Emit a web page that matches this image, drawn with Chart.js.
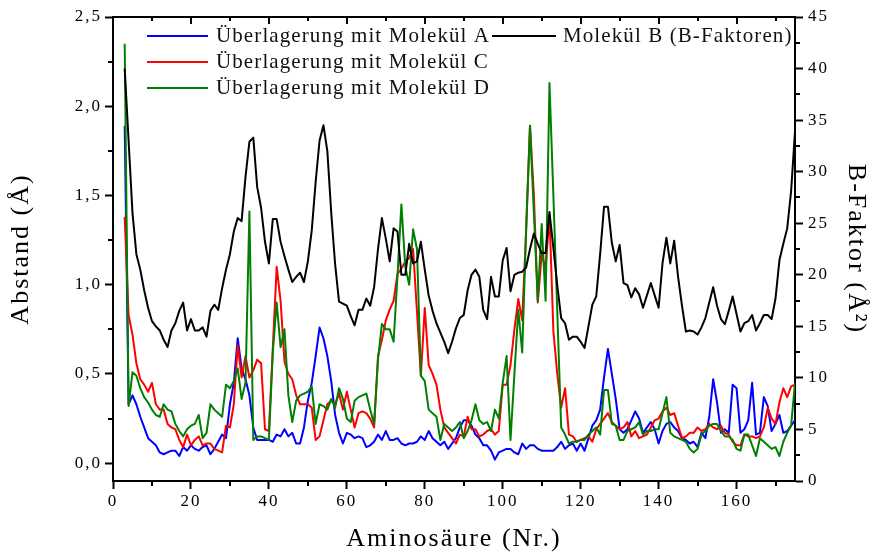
<!DOCTYPE html>
<html>
<head>
<meta charset="utf-8">
<script src="https://cdn.jsdelivr.net/npm/chart.js@4"></script>
<style>
  html, body { margin: 0; padding: 0; background: #fff; }
  #wrap { width: 878px; height: 555px; }
</style>
</head>
<body>
<div id="wrap"><canvas id="myChart" width="878" height="555"></canvas></div>
<script>
// residue numbers start at 3, one value per residue up to 175
const firstResidue = 3;

const abstandA = [
  1.89, 0.33, 0.38, 0.33, 0.26, 0.20, 0.14, 0.12, 0.10, 0.06,
  0.05, 0.06, 0.07, 0.07, 0.04, 0.09, 0.07, 0.10, 0.08, 0.07,
  0.09, 0.10, 0.05, 0.08, 0.12, 0.16, 0.14, 0.33, 0.45, 0.70,
  0.53, 0.47, 0.38, 0.20, 0.13, 0.13, 0.13, 0.13, 0.12, 0.16,
  0.15, 0.19, 0.15, 0.17, 0.11, 0.11, 0.20, 0.35, 0.45, 0.60,
  0.76, 0.70, 0.60, 0.46, 0.27, 0.17, 0.11, 0.17, 0.16, 0.14,
  0.15, 0.14, 0.09, 0.10, 0.12, 0.16, 0.13, 0.18, 0.13, 0.13,
  0.14, 0.11, 0.10, 0.11, 0.11, 0.12, 0.15, 0.13, 0.18, 0.14,
  0.12, 0.10, 0.12, 0.08, 0.11, 0.14, 0.20, 0.24, 0.24, 0.21,
  0.16, 0.14, 0.10, 0.10, 0.07, 0.02, 0.06, 0.07, 0.08, 0.08,
  0.06, 0.05, 0.11, 0.08, 0.10, 0.10, 0.08, 0.07, 0.07, 0.07,
  0.07, 0.09, 0.12, 0.08, 0.10, 0.11, 0.07, 0.11, 0.07, 0.14,
  0.21, 0.24, 0.30, 0.48, 0.64, 0.50, 0.36, 0.19, 0.17, 0.19,
  0.24, 0.29, 0.25, 0.17, 0.20, 0.23, 0.19, 0.11, 0.18, 0.22,
  0.23, 0.20, 0.18, 0.14, 0.13, 0.11, 0.12, 0.09, 0.17, 0.14,
  0.26, 0.47, 0.34, 0.17, 0.19, 0.17, 0.44, 0.42, 0.17, 0.19,
  0.24, 0.45, 0.16, 0.17, 0.37, 0.32, 0.18, 0.22, 0.27, 0.17,
  0.18, 0.21, 0.24
];

const abstandC = [
  1.38, 0.83, 0.72, 0.56, 0.47, 0.44, 0.40, 0.45, 0.33, 0.30,
  0.30, 0.22, 0.20, 0.19, 0.13, 0.09, 0.16, 0.10, 0.13, 0.15,
  0.10, 0.11, 0.11, 0.08, 0.07, 0.06, 0.21, 0.20, 0.33, 0.66,
  0.48, 0.60, 0.48, 0.52, 0.58, 0.56, 0.19, 0.18, 0.64, 1.10,
  0.91, 0.57, 0.50, 0.47, 0.38, 0.33, 0.33, 0.33, 0.31, 0.13,
  0.15, 0.24, 0.33, 0.35, 0.33, 0.39, 0.30, 0.40, 0.30, 0.20,
  0.28, 0.29, 0.28, 0.25, 0.20, 0.60, 0.69, 0.80, 0.86, 0.91,
  1.06, 1.09, 1.13, 1.15, 1.20, 0.85, 0.49, 0.87, 0.55, 0.50,
  0.44, 0.30, 0.20, 0.17, 0.14, 0.11, 0.16, 0.15, 0.26, 0.19,
  0.19, 0.15, 0.16, 0.18, 0.19, 0.16, 0.18, 0.44, 0.44, 0.55,
  0.75, 0.92, 0.80, 1.30, 1.89, 1.50, 0.90, 1.17, 1.09, 1.39,
  0.74, 0.50, 0.31, 0.42, 0.16, 0.15, 0.12, 0.13, 0.14, 0.15,
  0.12, 0.19, 0.22, 0.25, 0.28, 0.23, 0.21, 0.19, 0.20, 0.23,
  0.15, 0.18, 0.14, 0.15, 0.16, 0.20, 0.24, 0.25, 0.29, 0.31,
  0.27, 0.28, 0.21, 0.14, 0.15, 0.17, 0.17, 0.20, 0.18, 0.19,
  0.22, 0.20, 0.19, 0.21, 0.17, 0.16, 0.12, 0.10, 0.10, 0.16,
  0.15, 0.15, 0.14, 0.15, 0.20, 0.31, 0.25, 0.22, 0.34, 0.42,
  0.37, 0.43, 0.44
];

const abstandD = [
  2.35, 0.32, 0.51, 0.49, 0.42, 0.37, 0.34, 0.30, 0.27, 0.26,
  0.33, 0.30, 0.29, 0.22, 0.18, 0.15, 0.19, 0.21, 0.22, 0.27,
  0.14, 0.17, 0.33, 0.30, 0.28, 0.26, 0.44, 0.42, 0.46, 0.53,
  0.36, 0.45, 1.41, 0.13, 0.15, 0.15, 0.14, 0.13, 0.62, 0.90,
  0.65, 0.75, 0.38, 0.23, 0.35, 0.38, 0.39, 0.40, 0.43, 0.22,
  0.33, 0.32, 0.30, 0.36, 0.31, 0.42, 0.36, 0.25, 0.23, 0.35,
  0.37, 0.38, 0.39, 0.30, 0.22, 0.58, 0.78, 0.75, 0.75, 0.68,
  1.05, 1.45, 1.10, 1.00, 1.31, 1.20, 0.49, 0.46, 0.30, 0.28,
  0.26, 0.13, 0.22, 0.20, 0.18, 0.20, 0.23, 0.14, 0.18, 0.24,
  0.33, 0.24, 0.22, 0.23, 0.18, 0.30, 0.25, 0.45, 0.60, 0.13,
  0.50, 0.86, 0.62, 1.30, 1.89, 1.40, 0.91, 1.34, 0.91, 2.13,
  1.50, 0.85, 0.20, 0.16, 0.11, 0.12, 0.12, 0.13, 0.13, 0.16,
  0.18, 0.20, 0.16, 0.41, 0.41, 0.22, 0.21, 0.13, 0.13, 0.18,
  0.19, 0.20, 0.23, 0.16, 0.18, 0.18, 0.19, 0.19, 0.28, 0.37,
  0.17, 0.15, 0.14, 0.13, 0.12, 0.08, 0.06, 0.08, 0.16, 0.18,
  0.21, 0.22, 0.22, 0.18, 0.15, 0.15, 0.13, 0.08, 0.07, 0.16,
  0.16, 0.10, 0.04, 0.14, 0.12, 0.10, 0.08, 0.09, 0.04, 0.12,
  0.17, 0.21, 0.45
];

const bFaktorB = [
  40, 33, 26, 22, 20.5, 18.5, 16.8, 15.5, 15, 14.6,
  13.7, 13, 14.6, 15.3, 16.5, 17.3, 14.6, 15.7, 14.6, 14.6,
  14.9, 14, 16.5, 17.1, 16.6, 18.7, 20.5, 22, 24.2, 25.5,
  25.2, 29.5, 32.9, 33.3, 28.5, 26.5, 23.2, 21.1, 25.4, 25.4,
  23.2, 21.8, 20.5, 19.3, 19.8, 20.2, 19.3, 21.3, 24.3, 29,
  33, 34.5, 32, 26, 21, 17.4, 17.2, 17, 16, 15.1,
  16.6, 16.6, 17.7, 17, 18.8, 22.5, 25.5, 23.5, 21.3, 24.5,
  24.2, 20, 20, 23, 21.1, 21.3, 23.2, 20.5, 18, 16.5,
  15.3, 14.4, 13.5, 12.4, 13.5, 14.8, 15.8, 16.1, 18.5, 20,
  20.5, 19.8, 16.6, 15.7, 19.8, 17.9, 17.9, 21.4, 22.6, 18.4,
  20, 20.2, 20.3, 20.7, 22.5, 24, 23, 22.1, 22.1, 26.1,
  22.6, 19, 15.8, 15.3, 13.7, 14, 14, 13.5, 12.9, 15,
  17.1, 17.9, 22, 26.6, 26.6, 23.1, 21.3, 22.9, 19.2, 19,
  17.8, 18.7, 18.1, 16.8, 18, 19.2, 18, 16.8, 21.1, 23.6,
  21.1, 23.3, 19.8, 17, 14.5, 14.6, 14.5, 14.2, 14.9, 15.8,
  17.3, 18.8, 17, 15.7, 15.2, 16.5, 17.9, 16.2, 14.5, 15.3,
  15.5, 16.1, 14.6, 15.3, 16.1, 16.1, 15.7, 17.7, 21.4, 23,
  24.5, 28.1, 33.9
];

const xTicks = [0, 20, 40, 60, 80, 100, 120, 140, 160];
const xMinorTicks = [10, 30, 50, 70, 90, 110, 130, 150, 170];
const leftTicks = [0, 0.5, 1.0, 1.5, 2.0, 2.5];
const leftMinorTicks = [0.25, 0.75, 1.25, 1.75, 2.25];
const rightTicks = [0, 5, 10, 15, 20, 25, 30, 35, 40, 45];
const rightMinorTicks = [2.5, 7.5, 12.5, 17.5, 22.5, 27.5, 32.5, 37.5, 42.5];

const serif = "'Liberation Serif', 'Times New Roman', serif";

function toPoints(values) {
  return values.map((v, i) => ({ x: firstResidue + i, y: v }));
}

// legend rows: [label, colour, lineStart, lineEnd, textX, y]
const legendRows = [
  ["Überlagerung mit Molekül A", "#0000ff", 147, 208, 216, 36],
  ["Überlagerung mit Molekül C", "#ff0000", 147, 208, 216, 62],
  ["Überlagerung mit Molekül D", "#008000", 147, 208, 216, 88],
  ["Molekül B (B-Faktoren)", "#000000", 492, 556, 563, 36],
];

const framePlugin = {
  id: "frame",
  beforeDraw(chart) {
    chart.ctx.letterSpacing = "2px";
  },
  afterDraw(chart) {
    const ctx = chart.ctx;
    const a = chart.chartArea;
    const sx = chart.scales.x, sy = chart.scales.y, sy2 = chart.scales.y2;
    ctx.save();
    ctx.strokeStyle = "#000";
    ctx.lineWidth = 2;
    ctx.beginPath();
    ctx.moveTo(a.left - 1, a.top);
    ctx.lineTo(a.right + 1, a.top);
    ctx.stroke();
    ctx.beginPath();
    xMinorTicks.forEach(v => {
      const px = Math.round(sx.getPixelForValue(v));
      ctx.moveTo(px, a.bottom);
      ctx.lineTo(px, a.bottom + 5);
    });
    xTicks.concat(xMinorTicks).forEach(v => {
      const px = Math.round(sx.getPixelForValue(v));
      ctx.moveTo(px, a.top);
      ctx.lineTo(px, a.top + (v % 20 === 0 ? 7 : 4));
    });
    leftMinorTicks.forEach(v => {
      const py = Math.round(sy.getPixelForValue(v));
      ctx.moveTo(a.left, py);
      ctx.lineTo(a.left - 5, py);
    });
    rightMinorTicks.forEach(v => {
      const py = Math.round(sy2.getPixelForValue(v));
      ctx.moveTo(a.right, py);
      ctx.lineTo(a.right + 5, py);
    });
    ctx.stroke();

    // legend
    ctx.letterSpacing = "1.1px";
    ctx.font = "21px " + serif;
    ctx.textBaseline = "middle";
    ctx.textAlign = "left";
    legendRows.forEach(([label, colour, x0, x1, tx, y]) => {
      ctx.strokeStyle = colour;
      ctx.lineWidth = 2;
      ctx.beginPath();
      ctx.moveTo(x0, y);
      ctx.lineTo(x1, y);
      ctx.stroke();
      ctx.fillStyle = "#111";
      ctx.fillText(label, tx, y);
    });
    ctx.restore();
  }
};

const tickFont = { family: serif, size: 17 };
const titleFont = { family: serif, size: 26 };

const myChart = new Chart(document.getElementById("myChart"), {
  type: "line",
  data: {
    datasets: [
      {
        label: "Überlagerung mit Molekül A",
        data: toPoints(abstandA),
        borderColor: "#0000ff",
        borderWidth: 2,
        yAxisID: "y",
        order: 3,
      },
      {
        label: "Molekül B (B-Faktoren)",
        data: toPoints(bFaktorB),
        borderColor: "#000000",
        borderWidth: 2,
        yAxisID: "y2",
        order: 0,
      },
      {
        label: "Überlagerung mit Molekül C",
        data: toPoints(abstandC),
        borderColor: "#ff0000",
        borderWidth: 2,
        yAxisID: "y",
        order: 2,
      },
      {
        label: "Überlagerung mit Molekül D",
        data: toPoints(abstandD),
        borderColor: "#008000",
        borderWidth: 2,
        yAxisID: "y",
        order: 1,
      },
    ],
  },
  options: {
    responsive: false,
    animation: false,
    devicePixelRatio: 1,
    elements: {
      point: { radius: 0 },
      line: { tension: 0, borderJoinStyle: "round" },
    },
    layout: { padding: { top: 17, left: 0, right: 0, bottom: 0 } },
    plugins: {
      legend: { display: false },
      tooltip: { enabled: false },
    },
    scales: {
      x: {
        type: "linear",
        min: 0,
        max: 175,
        afterBuildTicks: s => { s.ticks = xTicks.map(v => ({ value: v })); },
        afterFit: s => { s.height = 74; },
        grid: { drawOnChartArea: false, tickLength: 8, tickWidth: 2, tickColor: "#000" },
        border: { color: "#000", width: 2 },
        ticks: { color: "#000", font: tickFont, padding: 2, maxRotation: 0, autoSkip: false },
        title: { display: true, text: "Aminosäure (Nr.)", color: "#000", font: titleFont, padding: 0 },
      },
      y: {
        position: "left",
        min: -0.1,
        max: 2.5,
        afterBuildTicks: s => { s.ticks = leftTicks.map(v => ({ value: v })); },
        afterFit: s => { s.width = 113; },
        grid: { drawOnChartArea: false, tickLength: 8, tickWidth: 2, tickColor: "#000" },
        border: { color: "#000", width: 2 },
        ticks: {
          color: "#000",
          font: tickFont,
          padding: 3,
          callback: v => v.toFixed(1).replace(".", ","),
        },
        title: { display: true, text: "Abstand (Å)", color: "#000", font: titleFont, padding: { top: 6, bottom: 0 } },
      },
      y2: {
        position: "right",
        min: 0,
        max: 45,
        afterBuildTicks: s => { s.ticks = rightTicks.map(v => ({ value: v })); },
        afterFit: s => { s.width = 83; },
        grid: { drawOnChartArea: false, tickLength: 8, tickWidth: 2, tickColor: "#000" },
        border: { color: "#000", width: 2 },
        ticks: { color: "#000", font: tickFont, padding: 5 },
        title: { display: true, text: "B-Faktor (Å²)", color: "#000", font: titleFont, padding: { top: 7, bottom: 0 } },
      },
    },
  },
  plugins: [framePlugin],
});
</script>
</body>
</html>
